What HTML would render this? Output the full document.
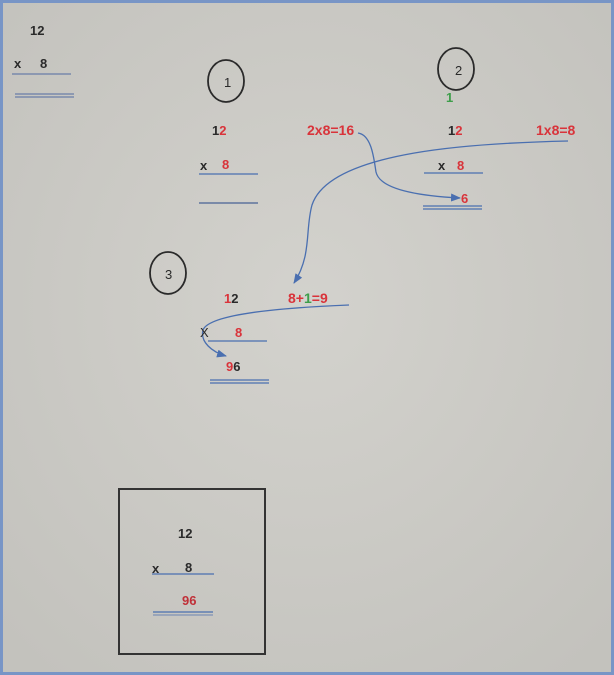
<!DOCTYPE html>
<html><head><meta charset="utf-8"><style>
html,body{margin:0;padding:0;}
body{width:614px;height:675px;overflow:hidden;}
svg{display:block;}
text{font-family:"Liberation Sans",sans-serif;font-size:13px;}
.k{fill:#2a2a2a}.r{fill:#d9333a;font-weight:bold}.g{fill:#3d9e4a;font-weight:bold}.b{font-weight:bold}
.w{font-size:14px}
</style></head><body>
<svg width="614" height="675" viewBox="0 0 614 675">
<defs>
<radialGradient id="bg" cx="50%" cy="45%" r="70%">
<stop offset="0" stop-color="#d3d2cd"/><stop offset="1" stop-color="#c3c2bd"/>
</radialGradient>
<marker id="ah" markerWidth="10" markerHeight="8" refX="9" refY="4" orient="auto" markerUnits="userSpaceOnUse">
<path d="M0,0 L10,4 L0,8 z" fill="#4a6fb0"/>
</marker>
</defs>
<rect x="0" y="0" width="614" height="675" fill="#7895c6"/>
<rect x="3" y="3" width="608" height="669" fill="url(#bg)"/>

<text x="30" y="35" class="k b">12</text>
<text x="14" y="68" class="k b">x</text>
<text x="40" y="68" class="k b">8</text>
<line x1="12" y1="74" x2="71" y2="74" stroke="#6a7ea8" stroke-width="1.2"/>
<line x1="15" y1="94" x2="74" y2="94" stroke="#6a7ea8" stroke-width="1.2"/>
<line x1="15" y1="97" x2="74" y2="97" stroke="#6a7ea8" stroke-width="1.2"/>

<ellipse cx="226" cy="81" rx="18" ry="21" fill="none" stroke="#2a2a2a" stroke-width="1.8"/>
<text x="224" y="87" class="k" font-size="12">1</text>
<text x="212" y="135" class="b"><tspan class="k">1</tspan><tspan class="r">2</tspan></text>
<text x="200" y="170" class="k b">x</text>
<text x="222" y="169" class="r">8</text>
<line x1="199" y1="174" x2="258" y2="174" stroke="#4a6fb0" stroke-width="1.2"/>
<line x1="199" y1="203" x2="258" y2="203" stroke="#7a8aa8" stroke-width="2"/>

<ellipse cx="456" cy="69" rx="18" ry="21" fill="none" stroke="#2a2a2a" stroke-width="1.8"/>
<text x="455" y="75" class="k" font-size="12">2</text>
<text x="446" y="102" class="g">1</text>
<text x="307" y="135" class="r w">2x8=16</text>
<text x="448" y="135" class="b"><tspan class="k">1</tspan><tspan class="r">2</tspan></text>
<text x="536" y="135" class="r w">1x8=8</text>
<text x="438" y="170" class="k b">x</text>
<text x="457" y="170" class="r">8</text>
<line x1="424" y1="173" x2="483" y2="173" stroke="#4a6fb0" stroke-width="1.2"/>
<text x="461" y="203" class="r">6</text>
<line x1="423" y1="206" x2="482" y2="206" stroke="#4a6fb0" stroke-width="1.2"/>
<line x1="423" y1="209" x2="482" y2="209" stroke="#4a6fb0" stroke-width="1.2"/>

<path d="M358,133 C372,135 374,160 376,172 C380,190 420,196 460,198" fill="none" stroke="#4a6fb0" stroke-width="1.3" marker-end="url(#ah)"/>
<path d="M568,141 C480,143 330,150 312,205 C305,230 312,255 294,283" fill="none" stroke="#4a6fb0" stroke-width="1.3" marker-end="url(#ah)"/>
<path d="M349,305 C300,307 210,312 203,330 C200,342 212,352 226,356" fill="none" stroke="#4a6fb0" stroke-width="1.3" marker-end="url(#ah)"/>

<ellipse cx="168" cy="273" rx="18" ry="21" fill="none" stroke="#2a2a2a" stroke-width="1.8"/>
<text x="165" y="279" class="k" font-size="12">3</text>
<text x="224" y="303" class="b"><tspan class="r">1</tspan><tspan class="k">2</tspan></text>
<text x="288" y="303" class="b w"><tspan class="r">8+</tspan><tspan class="g">1</tspan><tspan class="r">=9</tspan></text>
<text x="200" y="337" class="k">X</text>
<text x="235" y="337" class="r">8</text>
<line x1="208" y1="341" x2="267" y2="341" stroke="#4a6fb0" stroke-width="1.2"/>
<text x="226" y="371" class="b"><tspan class="r">9</tspan><tspan class="k">6</tspan></text>
<line x1="210" y1="380" x2="269" y2="380" stroke="#4a6fb0" stroke-width="1.2"/>
<line x1="210" y1="383" x2="269" y2="383" stroke="#4a6fb0" stroke-width="1.2"/>

<rect x="119" y="489" width="146" height="165" fill="none" stroke="#333" stroke-width="2"/>
<text x="178" y="538" class="k b">12</text>
<text x="152" y="573" class="k b">x</text>
<text x="185" y="572" class="k b">8</text>
<line x1="152" y1="574" x2="214" y2="574" stroke="#4a6fb0" stroke-width="1.2"/>
<text x="182" y="605" fill="#c03038" font-weight="bold" font-size="13">96</text>
<line x1="153" y1="612" x2="213" y2="612" stroke="#4a6fb0" stroke-width="1.2"/>
<line x1="153" y1="615" x2="213" y2="615" stroke="#8a9ab8" stroke-width="1.5"/>
</svg>
</body></html>
